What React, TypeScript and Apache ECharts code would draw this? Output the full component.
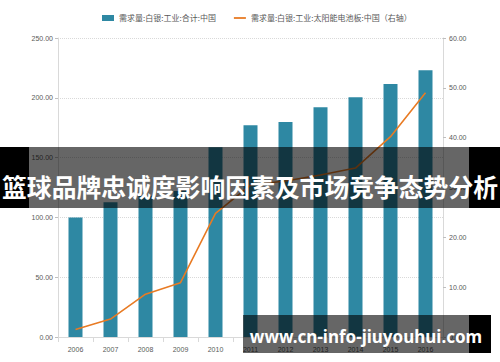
import React, { useEffect, useRef } from "react";
import * as echarts from "echarts";

const years = ["2006", "2007", "2008", "2009", "2010", "2011", "2012", "2013", "2014", "2015", "2016"];
const totalDemand = [100, 112.6, 118, 122, 158.7, 177, 179.8, 192, 200.4, 211.5, 223];
const solarDemand = [1.5, 3.6, 8.6, 10.9, 24.8, 30.5, 31.3, 32.5, 33.9, 40.2, 49];
const leftTicks = { min: 0, max: 250, interval: 50 };
const rightTicks = { min: 0, max: 60, interval: 10 };
const seriesNames = ["需求量:白银:工业:合计:中国", "需求量:白银:工业:太阳能电池板:中国（右轴）"];
const bannerText = "篮球品牌忠诚度影响因素及市场竞争态势分析";
const watermarkText = "www.cn-info-jiuyouhui.com";

export default function App() {
  const ref = useRef<HTMLDivElement>(null);
  useEffect(() => {
    if (!ref.current) return;
    const chart = echarts.init(ref.current, null, { renderer: "svg" });
    const labelStyle = { color: "#595959", fontSize: 7, fontFamily: "Liberation Sans Narrow, Liberation Sans, sans-serif" };
    chart.setOption({
      animation: false,
      backgroundColor: "#ffffff",
      legend: {
        top: 9,
        left: 97,
        itemGap: 18,
        itemWidth: 12,
        itemHeight: 6,
        itemStyle: { borderWidth: 0 },
        textStyle: { color: "#595959", fontSize: 8, fontFamily: "Noto Sans CJK SC" },
        data: [
          { name: seriesNames[0], icon: "rect" },
          { name: seriesNames[1], icon: "path://M0,0H40V6H0Z" },
        ],
      },
      grid: { left: 58, right: 57, top: 38, bottom: 25, containLabel: false },
      xAxis: {
        type: "category",
        data: years,
        axisLine: { lineStyle: { color: "#d9d9d9" } },
        axisTick: { show: true, alignWithLabel: false, lineStyle: { color: "#d9d9d9" } },
        axisLabel: { ...labelStyle, margin: 9 },
      },
      yAxis: [
        {
          type: "value",
          ...leftTicks,
          axisLine: { show: true, lineStyle: { color: "#d9d9d9" } },
          axisTick: { show: true, length: 3, lineStyle: { color: "#bfbfbf" } },
          splitLine: { show: true, lineStyle: { color: "#d9d9d9", type: "dotted" } },
          axisLabel: { ...labelStyle, formatter: (v: number) => v.toFixed(2), margin: 5 },
        },
        {
          type: "value",
          ...rightTicks,
          position: "right",
          axisLine: { show: true, lineStyle: { color: "#d9d9d9" } },
          axisTick: { show: true, length: 3, lineStyle: { color: "#bfbfbf" } },
          splitLine: { show: false },
          axisLabel: { ...labelStyle, formatter: (v: number) => v.toFixed(2), margin: 6 },
        },
      ],
      series: [
        {
          name: seriesNames[0],
          type: "bar",
          data: totalDemand,
          barWidth: 14,
          itemStyle: { color: "#2e88a3" },
          yAxisIndex: 0,
        },
        {
          name: seriesNames[1],
          type: "line",
          data: solarDemand,
          yAxisIndex: 1,
          showSymbol: false,
          symbol: "none",
          lineStyle: { color: "#e87b24", width: 1.6 },
          itemStyle: { color: "#e87b24" },
        },
      ],
      graphic: [
        { type: "rect", shape: { x: 0, y: 147, width: 29, height: 61 }, style: { fill: "#000" }, z: 100 },
        { type: "rect", shape: { x: 29, y: 147, width: 440, height: 61 }, style: { fill: "rgba(0,0,0,0.6)" }, z: 100 },
        { type: "rect", shape: { x: 469, y: 147, width: 31, height: 61 }, style: { fill: "#000" }, z: 100 },
        {
          type: "text",
          x: 250,
          y: 186,
          z: 101,
          style: {
            text: bannerText,
            fill: "#ffffff",
            fontSize: 24.8,
            fontWeight: "bold",
            fontFamily: "Noto Sans CJK SC",
            align: "center",
            verticalAlign: "middle",
          },
        },
        { type: "rect", shape: { x: 243, y: 315, width: 226, height: 38 }, style: { fill: "rgba(0,0,0,0.6)" }, z: 100 },
        { type: "rect", shape: { x: 469, y: 315, width: 22, height: 38 }, style: { fill: "#000" }, z: 100 },
        {
          type: "text",
          x: 366,
          y: 336,
          z: 101,
          style: {
            text: watermarkText,
            fill: "#ffffff",
            fontSize: 17,
            fontWeight: "bold",
            fontFamily: "Noto Sans",
            align: "center",
            verticalAlign: "middle",
          },
        },
      ],
    });
    return () => chart.dispose();
  }, []);
  return <div ref={ref} style={{ width: 500, height: 362, position: "absolute", left: 0, top: 0 }} />;
}
